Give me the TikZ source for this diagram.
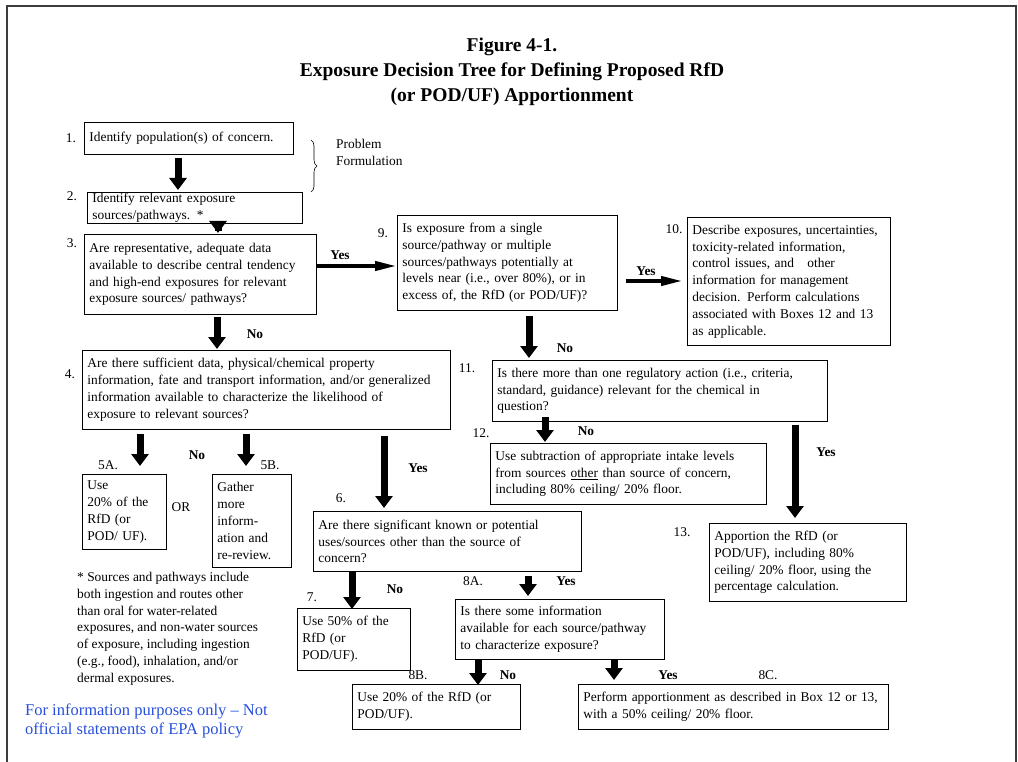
\documentclass[tikz,border=0pt]{standalone}
\usepackage{fontspec}
\setmainfont{Liberation Serif}
\usetikzlibrary{arrows.meta,decorations.pathreplacing}
\definecolor{epablue}{RGB}{40,80,220}
\definecolor{framegray}{RGB}{60,60,60}
\newcommand{\bodyfont}{\fontsize{13.4}{16.8}\selectfont}
\begin{document}
\begin{tikzpicture}[x=1pt,y=-1pt,
  box/.style={draw,line width=0.8pt,inner xsep=5pt,inner ysep=1pt,align=left,font=\bodyfont,anchor=north west},
  lab/.style={font=\bodyfont,inner sep=0pt},
  yn/.style={font=\bodyfont\bfseries,inner sep=0pt},
  fat/.style={line width=7pt,-{Triangle[width=17pt,length=12pt]}},
  hor/.style={line width=4pt,-{Triangle[width=9pt,length=22pt]}}]
\useasboundingbox (0,0) rectangle (1018,762);
% outer frame (open at bottom)
\draw[framegray,line width=1.3pt] (7,766) -- (7,6) -- (1016,6) -- (1016,766);
% title
\node[font=\fontsize{19.5}{25}\selectfont\bfseries,align=center] (title) at (512,72)
  {Figure 4-1.\\Exposure Decision Tree for Defining Proposed RfD\\(or POD/UF) Apportionment};
% boxes
\node[box,minimum height=32pt,text width=199pt] (b1) at (84,122) {Identify population(s) of concern.};
\node[box,minimum height=30pt,text width=205pt] (b2) at (87,192) {Identify relevant exposure\\sources/pathways. *};
\node[box,minimum height=80pt,text width=222pt] (b3) at (84,234) {Are representative, adequate data\\available to describe central tendency\\and high-end exposures for relevant\\exposure sources/ pathways?};
\node[box,minimum height=95pt,text width=210pt] (b9) at (397,215) {Is exposure from a single\\source/pathway or multiple\\sources/pathways potentially at\\levels near (i.e., over 80\%), or in\\excess of, the RfD (or POD/UF)?};
\node[box,minimum height=128pt,text width=193pt] (b10) at (687,217) {Describe exposures, uncertainties,\\toxicity-related information,\\control issues, and~~ other\\information for management\\decision. Perform calculations\\associated with Boxes 12 and 13\\as applicable.};
\node[box,minimum height=79pt,text width=358pt] (b4) at (82,350) {Are there sufficient data, physical/chemical property\\information, fate and transport information, and/or generalized\\information available to characterize the likelihood of\\exposure to relevant sources?};
\node[box,minimum height=61pt,text width=325pt] (b11) at (492,360) {Is there more than one regulatory action (i.e., criteria,\\standard, guidance) relevant for the chemical in\\question?};
\node[box,minimum height=75pt,text width=74pt] (b5a) at (82,474) {Use\\20\% of the\\RfD (or\\POD/ UF).};
\node[box,minimum height=93pt,text width=69pt] (b5b) at (212,474) {Gather\\more\\inform-\\ation and\\re-review.};
\node[box,minimum height=60pt,text width=258pt] (b6) at (313,511) {Are there significant known or potential\\uses/sources other than the source of\\concern?};
\node[box,minimum height=61pt,text width=266pt] (b12) at (490,443) {Use subtraction of appropriate intake levels\\from sources \underline{other} than source of concern,\\including 80\% ceiling/ 20\% floor.};
\node[box,minimum height=78pt,text width=187pt] (b13) at (709,523) {Apportion the RfD (or\\POD/UF), including 80\%\\ceiling/ 20\% floor, using the\\percentage calculation.};
\node[box,minimum height=62pt,text width=103pt] (b7) at (297,608) {Use 50\% of the\\RfD (or\\POD/UF).};
\node[box,minimum height=60pt,text width=199pt] (b8a) at (455,599) {Is there some information\\available for each source/pathway\\to characterize exposure?};
\node[box,minimum height=45pt,text width=158pt] (b8b) at (352,684) {Use 20\% of the RfD (or\\POD/UF).};
\node[box,minimum height=45pt,text width=300pt] (b8c) at (578,684) {Perform apportionment as described in Box 12 or 13,\\with a 50\% ceiling/ 20\% floor.};
% number labels
\node[lab] (l1) at (71,138) {1.};
\node[lab] (l2) at (72,196) {2.};
\node[lab] (l3) at (72,243) {3.};
\node[lab] (l9) at (383,233) {9.};
\node[lab] (l10) at (674,229) {10.};
\node[lab] (l4) at (70,374) {4.};
\node[lab] (l11) at (467,368) {11.};
\node[lab] (l5a) at (108,465) {5A.};
\node[lab] (l5b) at (270,465) {5B.};
\node[lab] (lor) at (181,507) {OR};
\node[lab] (l6) at (341,498) {6.};
\node[lab] (l12) at (481,433) {12.};
\node[lab] (l13) at (682,532) {13.};
\node[lab] (l7) at (312,597) {7.};
\node[lab] (l8a) at (473,581) {8A.};
\node[lab] (l8b) at (418,675) {8B.};
\node[lab] (l8c) at (768,675) {8C.};
% brace and problem formulation
\draw[line width=0.6pt,decorate,decoration={brace,amplitude=6pt}] (311,140) -- (311,192);
\node[lab,align=left,anchor=north west] (pf) at (336,139) {Problem\\Formulation};
% arrows
\draw[fat,shorten <=3pt,shorten >=2pt] (178,0 |- b1.south) -- (178,0 |- b2.north);
\draw[fat,shorten <=-7pt,shorten >=1pt] (218,0 |- b2.south) -- (218,0 |- b3.north);
\draw[hor] (b3.east |- 0,266) -- (b9.west |- 0,266);
\draw[hor,shorten <=8pt,shorten >=4pt] (b9.east |- 0,281) -- (b10.west |- 0,281);
\draw[fat,shorten <=2pt,shorten >=1pt] (217,0 |- b3.south) -- (217,0 |- b4.north);
\draw[fat,shorten <=5pt,shorten >=2pt] (529,0 |- b9.south) -- (529,0 |- b11.north);
\draw[fat,shorten <=4pt,shorten >=8pt] (140,0 |- b4.south) -- (140,0 |- b5a.north);
\draw[fat,shorten <=4pt,shorten >=8pt] (246,0 |- b4.south) -- (246,0 |- b5b.north);
\draw[fat,shorten <=6pt,shorten >=3pt] (384,0 |- b4.south) -- (384,0 |- b6.north);
\draw[fat,shorten <=-5pt,shorten >=1pt] (545,0 |- b11.south) -- (545,0 |- b12.north);
\draw[fat,shorten <=3pt,shorten >=5pt] (795,0 |- b11.south) -- (795,0 |- b13.north);
\draw[fat,shorten <=0pt,shorten >=-1pt] (352,0 |- b6.south) -- (352,0 |- b7.north);
\draw[fat,shorten <=4pt,shorten >=3pt] (528,0 |- b6.south) -- (528,0 |- b8a.north);
\draw[fat,shorten <=0pt,shorten >=-1pt] (478,0 |- b8a.south) -- (478,0 |- b8b.north);
\draw[fat,shorten <=0pt,shorten >=4pt] (614,0 |- b8a.south) -- (614,0 |- b8c.north);
% yes / no labels
\node[yn] (y39) at (340,255) {Yes};
\node[yn] (y910) at (646,271) {Yes};
\node[yn] (n34) at (255,334) {No};
\node[yn] (n911) at (565,348) {No};
\node[yn] (n45) at (197,455) {No};
\node[yn] (y46) at (418,468) {Yes};
\node[yn] (n1112) at (586,431) {No};
\node[yn] (y1113) at (826,452) {Yes};
\node[yn] (n67) at (395,589) {No};
\node[yn] (y68) at (566,581) {Yes};
\node[yn] (n8b) at (508,675) {No};
\node[yn] (y8c) at (668,675) {Yes};
% footnote
\node[lab,align=left,anchor=north west] (foot) at (77,572) {* Sources and pathways include\\both ingestion and routes other\\than oral for water-related\\exposures, and non-water sources\\of exposure, including ingestion\\(e.g., food), inhalation, and/or\\dermal exposures.};
\node[font=\fontsize{16.5}{19.5}\selectfont,text=epablue,align=left,anchor=west,inner sep=0pt] (epa) at (25,721) {For information purposes only -- Not\\official statements of EPA policy};
\end{tikzpicture}
\end{document}
